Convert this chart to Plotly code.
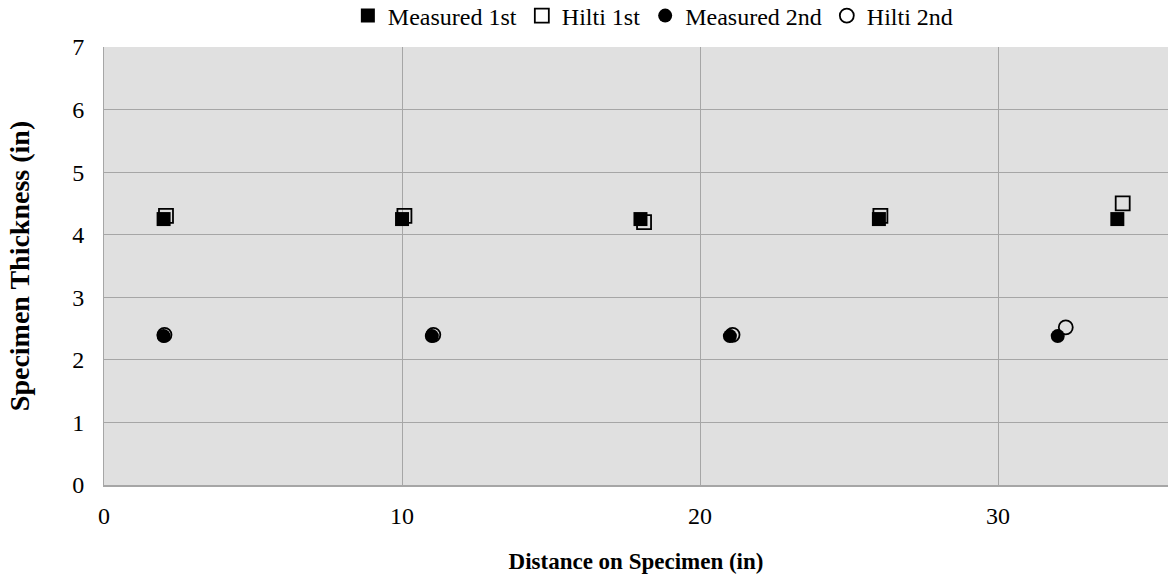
import plotly.graph_objects as go

# Data
meas1_x = [2, 10, 18, 26, 34]
meas1_y = [4.25, 4.25, 4.25, 4.25, 4.25]
hilti1_x = [2.08, 10.08, 18.12, 26.05, 34.18]
hilti1_y = [4.3, 4.3, 4.2, 4.3, 4.5]
meas2_x = [2, 11, 21, 32]
meas2_y = [2.38, 2.38, 2.38, 2.38]
hilti2_x = [2.03, 11.05, 21.09, 32.27]
hilti2_y = [2.4, 2.4, 2.4, 2.52]

x_ticks = [0, 10, 20, 30]
y_ticks = [0, 1, 2, 3, 4, 5, 6, 7]

FONT = "Liberation Serif, Times New Roman, serif"

fig = go.Figure()
# Hilti drawn first (behind), measured on top; legend order via legendrank
fig.add_trace(go.Scatter(x=hilti1_x, y=hilti1_y, mode="markers", name="Hilti 1st",
                         marker=dict(symbol="square-open", size=14, color="black", line=dict(width=1.8, color="black")),
                         legendrank=2))
fig.add_trace(go.Scatter(x=hilti2_x, y=hilti2_y, mode="markers", name="Hilti 2nd",
                         marker=dict(symbol="circle-open", size=14, color="black", line=dict(width=1.8, color="black")),
                         legendrank=4))
fig.add_trace(go.Scatter(x=meas1_x, y=meas1_y, mode="markers", name="Measured 1st",
                         marker=dict(symbol="square", size=14, color="black"),
                         legendrank=1))
fig.add_trace(go.Scatter(x=meas2_x, y=meas2_y, mode="markers", name="Measured 2nd",
                         marker=dict(symbol="circle", size=14, color="black"),
                         legendrank=3))

fig.update_layout(
    width=1170, height=582,
    margin=dict(l=104, r=2, t=47, b=97, autoexpand=False),
    paper_bgcolor="white",
    plot_bgcolor="#e0e0e0",
    font=dict(family=FONT, size=24, color="black"),
    showlegend=True,
    legend=dict(orientation="h", x=0.558, xref="container", xanchor="center",
                y=1 - 16 / 582, yref="container", yanchor="middle",
                font=dict(family=FONT, size=24, color="black"),
                bgcolor="rgba(0,0,0,0)", traceorder="normal"),
    xaxis=dict(range=[0, 35.7], tickvals=x_ticks, showgrid=True, gridcolor="#a6a6a6", gridwidth=1,
               zeroline=False, showline=True, linecolor="#a6a6a6", linewidth=2, mirror=False,
               ticks="", tickfont=dict(family=FONT, size=24, color="black"), ticklabelstandoff=8,
               automargin=False,
               title=dict(text="<b>Distance on Specimen (in)</b>", font=dict(family=FONT, size=23, color="black"), standoff=25)),
    yaxis=dict(range=[0, 7], tickvals=y_ticks, showgrid=True, gridcolor="#a6a6a6", gridwidth=1,
               zeroline=False, showline=True, linecolor="#a6a6a6", linewidth=1, mirror=False,
               ticks="", tickfont=dict(family=FONT, size=24, color="black"), ticklabelstandoff=14,
               automargin=False,
               title=dict(text="<b>Specimen Thickness (in)</b>", font=dict(family=FONT, size=28, color="black"), standoff=34)),
)

fig.write_html("out.html", config={"displayModeBar": False},
               post_script="document.body.style.margin='0px';")
